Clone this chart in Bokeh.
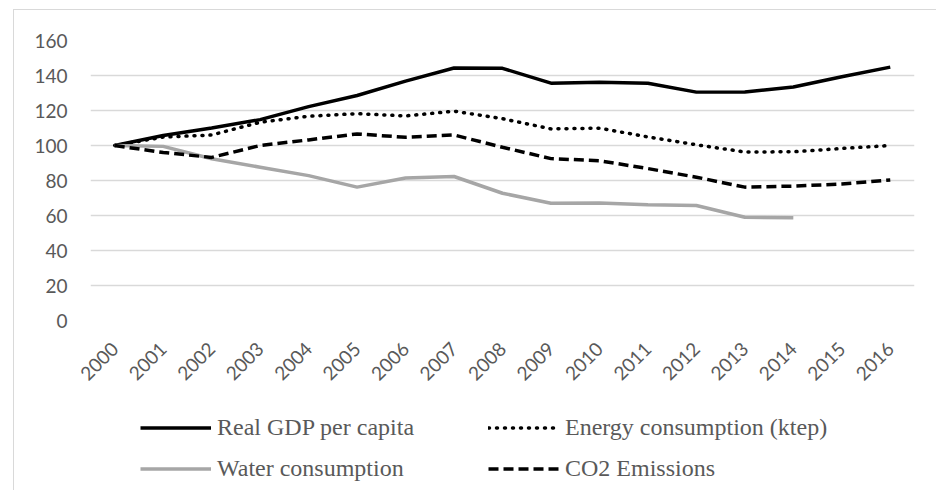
import math

from bokeh.embed import file_html
from bokeh.layouts import column
from bokeh.models import FixedTicker, Legend, LegendItem
from bokeh.plotting import figure
from bokeh.resources import INLINE

# Index values, 2000 = 100
years = [str(y) for y in range(2000, 2017)]
gdp = [100, 105.7, 110, 114.8, 122.2, 128.6, 136.8, 144.3, 144.1, 135.6, 136.2, 135.6, 130.5, 130.6, 133.4, 139.3, 144.8]
energy = [100, 104.8, 106, 113.3, 116.7, 118.2, 116.9, 119.6, 115.3, 109.5, 109.9, 104.9, 100.4, 96.3, 96.4, 98.3, 100]
water = [100, 99.5, 92.4, 87.6, 82.8, 76.2, 81.4, 82.3, 72.7, 67.0, 67.2, 66.2, 65.7, 59.0, 58.7, float("nan"), float("nan")]
co2 = [100, 96.0, 93.2, 100, 103.2, 106.6, 104.7, 106.0, 99.0, 92.5, 91.3, 86.8, 81.9, 76.2, 76.8, 78.0, 80.3]
labels = ["Real GDP per capita", "Energy consumption (ktep)", "Water consumption", "CO2 Emissions"]
y_ticks = [0, 20, 40, 60, 80, 100, 120, 140, 160]

GRID = "#d9d9d9"
TEXT = "#595959"
LW = 3.5
STYLES = {
    "gdp": dict(line_color="black", line_width=LW),
    "energy": dict(line_color="black", line_width=LW, line_dash="1 7", line_cap="round"),
    "water": dict(line_color="#a6a6a6", line_width=LW),
    "co2": dict(line_color="black", line_width=LW, line_dash="10 5"),
}

p = figure(
    x_range=years,
    y_range=(0, 160),
    frame_width=824,
    frame_height=280,
    min_border_left=76,
    min_border_right=22,
    min_border_top=30,
    min_border_bottom=80,
    output_backend="svg",
    toolbar_location=None,
)
p.outline_line_color = None
p.background_fill_color = "white"
p.border_fill_color = "white"

# axes
p.yaxis.ticker = FixedTicker(ticks=y_ticks)
p.yaxis.axis_line_color = None
p.yaxis.major_tick_line_color = None
p.yaxis.minor_tick_line_color = None
p.yaxis.major_tick_out = 0
p.yaxis.major_tick_in = 0
p.yaxis.major_label_standoff = 23
p.yaxis.major_label_text_font = "Lato"
p.yaxis.major_label_text_font_size = "19px"
p.yaxis.major_label_text_color = TEXT

p.xaxis.axis_line_color = None
p.xaxis.major_tick_line_color = None
p.xaxis.major_tick_out = 0
p.xaxis.major_tick_in = 0
p.xaxis.major_label_orientation = math.pi / 4
p.xaxis.major_label_standoff = 25
p.xaxis.major_label_text_font = "Lato"
p.xaxis.major_label_text_font_size = "19px"
p.xaxis.major_label_text_color = TEXT

p.xgrid.grid_line_color = None
p.ygrid.grid_line_color = GRID
p.ygrid.grid_line_width = 1.5

p.line(years, gdp, **STYLES["gdp"])
p.line(years, energy, **STYLES["energy"])
p.line(years, water, **STYLES["water"])
p.line(years, co2, **STYLES["co2"])

# legend strip below the chart, two columns
q = figure(
    width=922,
    height=90,
    x_range=(0, 922),
    y_range=(0, 90),
    min_border=0,
    output_backend="svg",
    toolbar_location=None,
)
q.axis.visible = False
q.grid.visible = False
q.outline_line_color = None
q.background_fill_color = "white"
q.border_fill_color = "white"

keys = ["gdp", "energy", "water", "co2"]
nan = float("nan")
# legend handles carry the line styles only; their single point is blank
handles = {k: q.line([nan], [nan], **STYLES[k]) for k in keys}
order = [0, 2, 1, 3]  # column-major fill: first column GDP / water
legend = Legend(
    items=[LegendItem(label=labels[i], renderers=[handles[keys[i]]]) for i in order],
    ncols=2,
    location=(50, 4),
    glyph_width=71,
    glyph_height=35,
    label_height=35,
    label_width=265,
    label_standoff=6,
    spacing=6,
    padding=0,
    margin=0,
    border_line_color=None,
    background_fill_alpha=0,
    label_text_font="Liberation Serif",
    label_text_font_size="24px",
    label_text_color=TEXT,
)
q.add_layout(legend, "center")

layout = column(
    p, q,
    spacing=0,
    styles={
        "margin-left": "13px",
        "margin-top": "9px",
        "border-left": "1.5px solid #d9d9d9",
        "border-top": "1.5px solid #d9d9d9",
    },
)

open("out.html", "w").write(file_html(layout, INLINE))
